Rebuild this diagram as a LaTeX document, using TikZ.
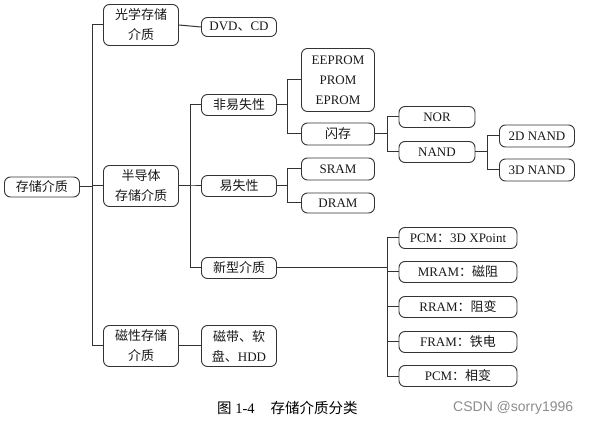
\documentclass[tikz,border=0pt]{standalone}
\usepackage{fontspec}
\setmainfont{Liberation Serif}
\newfontfamily\cjk{Noto Sans CJK SC}
\newfontfamily\markfont{Liberation Sans}
\usepackage{tikz}

\begin{document}
\begin{tikzpicture}[
x=1pt, y=-1pt,
medianode/.style={draw=black!80, line width=0.9pt, rounded corners=6pt, align=center, inner sep=1pt, text=black!90, font=\fontsize{13}{20}\selectfont},
onebox/.style={medianode, minimum width=75pt, minimum height=21pt},
twobox/.style={medianode, minimum width=75pt, minimum height=41pt},
slimbox/.style={medianode, minimum width=73pt, minimum height=22pt},
nandbox/.style={medianode, minimum width=76pt, minimum height=21pt},
newbox/.style={medianode, minimum width=118pt, minimum height=21pt},
link/.style={draw=black!80, line width=1pt}
]
    \useasboundingbox (0,0) rectangle (590,425);

    %Nodes
    \node[onebox, minimum height=20pt]
        (root)      at (42,187)     {\cjk 存储介质};
    \node[twobox]
        (optical)   at (141,25)     {\cjk 光学存储\\\cjk 介质};
    \node[twobox]
        (semi)      at (141,186)    {\cjk 半导体\\\cjk 存储介质};
    \node[twobox]
        (magnetic)  at (141,346)    {\cjk 磁性存储\\\cjk 介质};
    \node[onebox, minimum height=19pt]
        (dvd)       at (239,27)     {DVD{\cjk 、}CD};
    \node[twobox]
        (tape)      at (239,346)    {{\cjk 磁带、软}\\{\cjk 盘、}HDD};
    \node[onebox]
        (nonvol)    at (239,105)    {\cjk 非易失性};
    \node[onebox]
        (vol)       at (239,186)    {\cjk 易失性};
    \node[onebox]
        (newmed)    at (239,268)    {\cjk 新型介质};
    \node[slimbox, minimum height=63pt]
        (eeprom)    at (338,80)     {EEPROM\\PROM\\EPROM};
    \node[slimbox]
        (flash)     at (338,134)    {\cjk 闪存};
    \node[slimbox]
        (sram)      at (338,169)    {SRAM};
    \node[slimbox, minimum height=20pt]
        (dram)      at (338,203)    {DRAM};
    \node[nandbox]
        (nor)       at (437,117)    {NOR};
    \node[nandbox]
        (nand)      at (437,152)    {NAND};
    \node[onebox, minimum height=22pt]
        (nandtwo)   at (537,136)    {2D NAND};
    \node[onebox, minimum height=22pt]
        (nandthree) at (537,170)    {3D NAND};
    \node[newbox]
        (pcmx)      at (458,238)    {PCM{\cjk ：}3D XPoint};
    \node[newbox]
        (mram)      at (458,272)    {MRAM{\cjk ：磁阻}};
    \node[newbox]
        (rram)      at (458,307)    {RRAM{\cjk ：阻变}};
    \node[newbox]
        (fram)      at (458,342)    {FRAM{\cjk ：铁电}};
    \node[newbox]
        (pcm)       at (458,376)    {PCM{\cjk ：相变}};

    %Caption
    \node[anchor=west, inner sep=0pt, font=\fontsize{14.5}{16}\selectfont]
        (caption)   at (217,408)    {{\cjk 图} 1-4\hspace{1.1em}{\cjk 存储介质分类}};
    \node[anchor=west, inner sep=0pt, text=black!45, font=\markfont\fontsize{14}{16}\selectfont]
        (mark)      at (453,408)    {CSDN @sorry1996};

    %Lines
    \coordinate (ta) at (92,0);
    \coordinate (tb) at (190,0);
    \coordinate (tc) at (287,0);
    \coordinate (td) at (387,0);
    \coordinate (te) at (487,0);
    \foreach \kid in {optical,semi,magnetic}
        \draw[link] (root.east) -- (root.east -| ta) |- (\kid.west);
    \draw[link] (optical.east) -- (dvd.west);
    \draw[link] (magnetic.east) -- (tape.west);
    \foreach \kid in {nonvol,vol,newmed}
        \draw[link] (semi.east) -- (semi.east -| tb) |- (\kid.west);
    \foreach \kid in {eeprom,flash}
        \draw[link] (nonvol.east) -- (nonvol.east -| tc) |- (\kid.west);
    \foreach \kid in {sram,dram}
        \draw[link] (vol.east) -- (vol.east -| tc) |- (\kid.west);
    \foreach \kid in {nor,nand}
        \draw[link] (flash.east) -- (flash.east -| td) |- (\kid.west);
    \foreach \kid in {nandtwo,nandthree}
        \draw[link] (nand.east) -- (nand.east -| te) |- (\kid.west);
    \foreach \kid in {pcmx,mram,rram,fram,pcm}
        \draw[link] (newmed.east) -- (newmed.east -| td) |- (\kid.west);
\end{tikzpicture}
\end{document}
